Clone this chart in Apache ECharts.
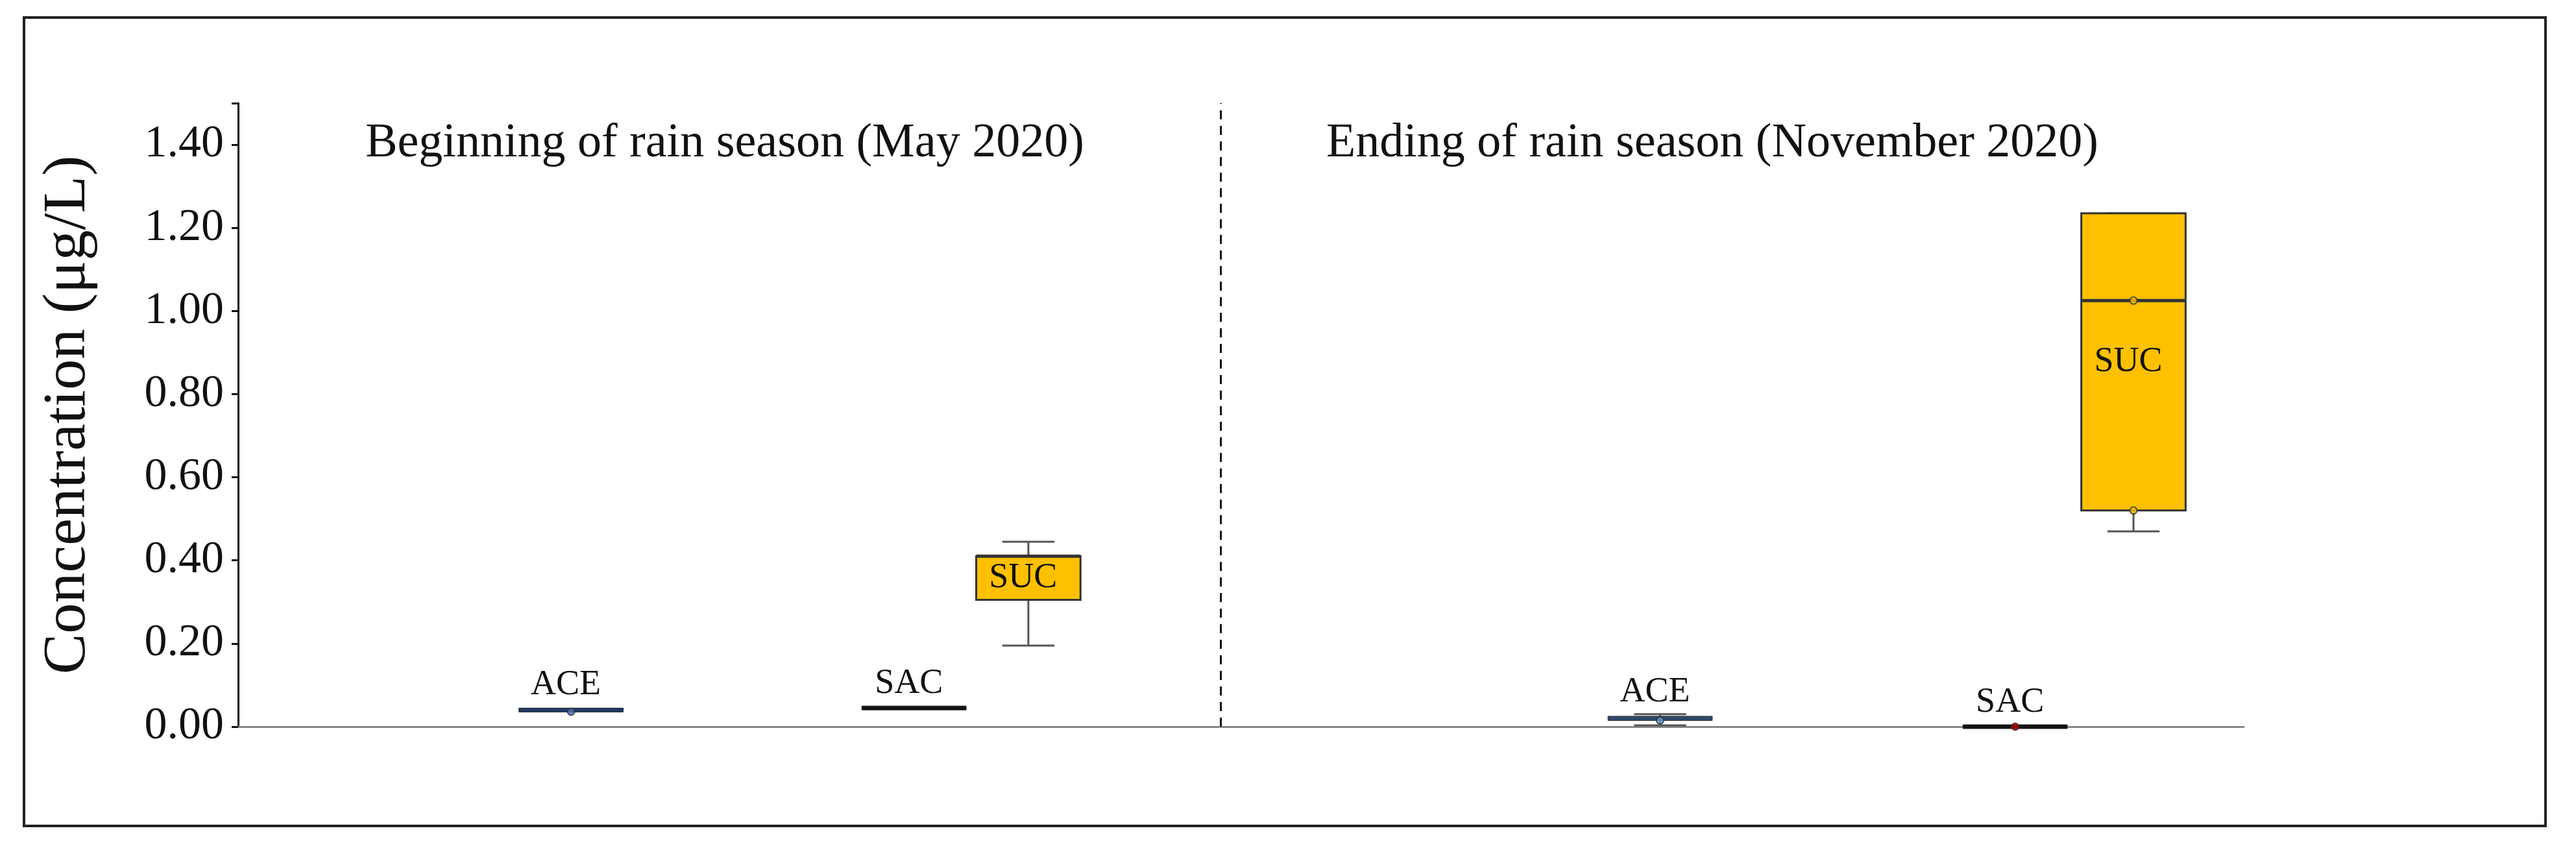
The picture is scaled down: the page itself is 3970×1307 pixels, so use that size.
<!DOCTYPE html>
<html>
<head>
<meta charset="utf-8">
<script src="https://cdn.jsdelivr.net/npm/echarts@6/dist/echarts.min.js"></script>
<style>
  html, body { margin: 0; padding: 0; background: #fff; }
  #frame { position: absolute; left: 35px; top: 25px; width: 3890px; height: 1250px; border: 4px solid #222; box-sizing: border-box; }
  #chart { position: absolute; left: 0; top: 0; width: 3970px; height: 1307px; }
</style>
</head>
<body>
<div id="frame"></div>
<div id="chart"></div>
<script>
// compound, x position (0-100 along the axis), min, q1, median, q3, max
const compounds = ['ACE', 'SAC', 'SUC', 'ACE', 'SAC', 'SUC'];
const positions = [16.6, 33.7, 39.4, 70.9, 88.6, 94.5];
const mins = [0.038, 0.045, 0.195, 0.003, 0.0, 0.47];
const q1s = [0.038, 0.045, 0.305, 0.015, 0.0, 0.52];
const medians = [0.040, 0.045, 0.410, 0.020, 0.0, 1.025];
const q3s = [0.042, 0.045, 0.410, 0.025, 0.0, 1.235];
const maxs = [0.042, 0.045, 0.445, 0.030, 0.0, 1.235];
const labelInside = [false, false, true, false, false, true];
const boxColors = ['#1f3864', '#111111', '#ffc000', '#2f4a6e', '#111111', '#ffc000'];

// individual points drawn on the boxes
const pointX = [16.6, 70.9, 88.6, 94.5, 94.5];
const pointY = [0.036, 0.015, 0.0, 1.025, 0.52];
const pointColors = ['#4472c4', '#5b9bd5', '#c00000', '#ffc000', '#ffc000'];

const dividerX = 49.0;
const yTicks = [0, 0.2, 0.4, 0.6, 0.8, 1.0, 1.2, 1.4];
const seasonTitles = ['Beginning of rain season (May 2020)', 'Ending of rain season (November 2020)'];

const serif = 'Liberation Serif';
const boxData = compounds.map((c, i) => [positions[i], mins[i], q1s[i], medians[i], q3s[i], maxs[i], i]);

const chart = echarts.init(document.getElementById('chart'));
chart.setOption({
  animation: false,
  title: [
    { text: seasonTitles[0], left: 1112, top: 180, textAlign: 'center',
      textStyle: { fontFamily: serif, fontWeight: 'normal', fontSize: 74, color: '#111' } },
    { text: seasonTitles[1], left: 2634, top: 180, textAlign: 'center',
      textStyle: { fontFamily: serif, fontWeight: 'normal', fontSize: 74, color: '#111' } }
  ],
  grid: { left: 367, right: 512, top: 159, bottom: 187 },
  xAxis: {
    type: 'value', min: 0, max: 100,
    axisLine: { show: true, onZero: true, lineStyle: { color: '#888', width: 3 } },
    axisTick: { show: false }, axisLabel: { show: false }, splitLine: { show: false }
  },
  yAxis: {
    type: 'value', min: 0, max: 1.5, interval: 0.2,
    name: 'Concentration (μg/L)', nameLocation: 'middle', nameGap: 215,
    nameTextStyle: { fontFamily: serif, fontSize: 94, color: '#111' },
    axisLine: { show: true, lineStyle: { color: '#111', width: 3 } },
    axisTick: { show: true, length: 10, lineStyle: { color: '#111', width: 3 } },
    axisLabel: {
      fontFamily: serif, fontSize: 70, color: '#111', margin: 22,
      formatter: v => yTicks.some(t => Math.abs(t - v) < 1e-9) ? v.toFixed(2) : ''
    },
    splitLine: { show: false }
  },
  series: [
    {
      type: 'custom',
      data: boxData,
      encode: { x: 0, y: [1, 2, 3, 4, 5] },
      renderItem: function (params, api) {
        const i = api.value(6);
        const x = api.value(0);
        const half = 2.6;
        const pMin = api.coord([x, api.value(1)]);
        const pQ1 = api.coord([x, api.value(2)]);
        const pMed = api.coord([x, api.value(3)]);
        const pQ3 = api.coord([x, api.value(4)]);
        const pMax = api.coord([x, api.value(5)]);
        const left = api.coord([x - half, 0])[0];
        const right = api.coord([x + half, 0])[0];
        const capL = api.coord([x - half / 2, 0])[0];
        const capR = api.coord([x + half / 2, 0])[0];
        const flat = Math.abs(pQ1[1] - pQ3[1]) < 8;
        const children = [];
        const stroke = { stroke: '#555', lineWidth: 3 };
        if (Math.abs(pMin[1] - pMax[1]) > 4) {
          children.push({ type: 'line', shape: { x1: pMin[0], y1: pMin[1], x2: pMax[0], y2: pMax[1] }, style: stroke });
          children.push({ type: 'line', shape: { x1: capL, y1: pMin[1], x2: capR, y2: pMin[1] }, style: stroke });
          children.push({ type: 'line', shape: { x1: capL, y1: pMax[1], x2: capR, y2: pMax[1] }, style: stroke });
        }
        if (flat) {
          const h = Math.max(6, pQ1[1] - pQ3[1]);
          children.push({ type: 'rect', shape: { x: left, y: pMed[1] - h / 2, width: right - left, height: h },
            style: { fill: boxColors[i], stroke: '#222', lineWidth: 1 } });
        } else {
          children.push({ type: 'rect', shape: { x: left, y: pQ3[1], width: right - left, height: pQ1[1] - pQ3[1] },
            style: { fill: boxColors[i], stroke: '#333', lineWidth: 3 } });
          children.push({ type: 'line', shape: { x1: left, y1: pMed[1], x2: right, y2: pMed[1] },
            style: { stroke: '#333', lineWidth: 5 } });
        }
        const labelY = labelInside[i] ? (pQ1[1] + pQ3[1]) / 2 : pQ3[1] - 10;
        children.push({ type: 'text', x: pMed[0] - 8, y: labelY,
          style: { text: compounds[i], fontFamily: serif, fontSize: 54, fill: '#111',
            align: 'center', verticalAlign: labelInside[i] ? 'middle' : 'bottom' } });
        return { type: 'group', children: children };
      },
      markLine: {
        silent: true, symbol: 'none', label: { show: false },
        lineStyle: { color: '#111', type: [14, 10], width: 3 },
        data: [{ xAxis: dividerX }]
      }
    },
    {
      type: 'scatter',
      data: pointX.map((x, i) => ({ value: [x, pointY[i]], itemStyle: { color: pointColors[i] } })),
      symbolSize: 11,
      itemStyle: { borderColor: '#333', borderWidth: 2 },
      z: 5
    }
  ]
});
</script>
</body>
</html>
